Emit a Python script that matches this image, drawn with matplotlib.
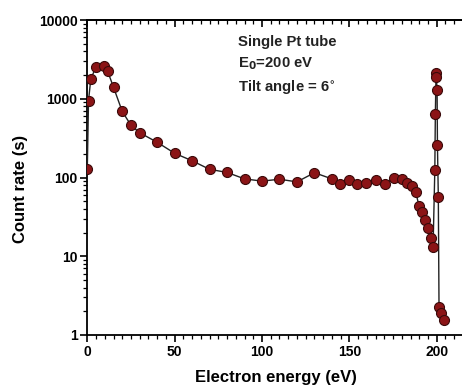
import matplotlib
matplotlib.use("Agg")
import matplotlib.pyplot as plt
from matplotlib.ticker import FixedLocator, LogLocator, MultipleLocator, FuncFormatter, NullFormatter

plt.rcParams['font.family'] = ['Liberation Sans', 'DejaVu Sans']
plt.rcParams['font.weight'] = 'bold'

# electron energy (eV) and count rate (s)
energy = [0, 0.7, 2, 5, 9.7, 11.6, 15, 20, 25, 30, 40, 50, 60, 70, 80,
          90, 100, 110, 120, 130, 140, 144.6, 150, 154.2, 159.5, 165, 170.2,
          175.5, 180, 183.2, 186, 188, 189.9, 191.8, 193.3, 195, 196.6, 197.9,
          198.9, 199.2, 199.6, 199.8, 200.2, 200.4, 200.9, 201.3, 202.3, 204.3]
counts = [130, 950, 1780, 2550, 2580, 2250, 1400, 690, 460, 370, 280, 203, 163, 127, 116,
          96, 90, 95, 88, 115, 96, 82, 93, 83, 85, 93, 83,
          99, 97, 86, 78, 65, 43, 36, 29, 22.6, 16.9, 13.2,
          124, 640, 2100, 1900, 1290, 259, 57, 2.3, 1.9, 1.55]

labels = ["Single Pt tube", "E$_\\mathbf{0}$=200 eV", "Tilt angle = 6$^{\\circ}$"]

fig = plt.figure(figsize=(4.62, 3.87), dpi=100)
ax = fig.add_axes([87.3 / 462, 52 / 387, 377.4 / 462, 315 / 387])

ax.plot(energy, counts, color='#222222', lw=1.0, marker='o', ms=7.2,
        mfc='#8b1416', mec='#3a0a0a', mew=0.8, zorder=3)

ax.set_yscale('log')
ax.set_ylim(1, 10000)
ax.set_xlim(0, 216)

ax.yaxis.set_major_locator(FixedLocator([1, 10, 100, 1000, 10000]))
ax.yaxis.set_major_formatter(FuncFormatter(lambda v, p: '%d' % round(v)))
ax.yaxis.set_minor_locator(LogLocator(base=10, subs=range(2, 10)))
ax.yaxis.set_minor_formatter(NullFormatter())
ax.xaxis.set_major_locator(MultipleLocator(50))
ax.xaxis.set_minor_locator(MultipleLocator(5))

ax.tick_params(axis='both', which='major', labelsize=10, length=5, width=1.2, pad=2)
ax.tick_params(axis='both', which='minor', length=3, width=0.9)
ax.tick_params(axis='both', which='both', direction='out')
ax.spines['right'].set_visible(False)
for sp in ax.spines.values():
    sp.set_linewidth(1.3)

# top axis: ticks pointing inward, no labels
top = ax.secondary_xaxis('top')
top.xaxis.set_major_locator(MultipleLocator(50))
top.xaxis.set_minor_locator(MultipleLocator(5))
top.tick_params(which='both', direction='in', labeltop=False)
top.tick_params(which='major', length=5, width=1.2)
top.tick_params(which='minor', length=3, width=0.9)
top.spines['top'].set_linewidth(1.3)

ax.set_xlabel('Electron energy (eV)', fontsize=12, fontweight='bold', labelpad=8)
ax.set_ylabel('Count rate (s)', fontsize=12, fontweight='bold')
ax.yaxis.set_label_coords(-0.158, 0.465)

ys = [0.93, 0.86, 0.785]
for t, y in zip(labels, ys):
    ax.text(0.40, y, t, transform=ax.transAxes, fontsize=10.7, fontweight='bold',
            color='#222222', va='center', ha='left')

fig.savefig('out.png', dpi=100)
